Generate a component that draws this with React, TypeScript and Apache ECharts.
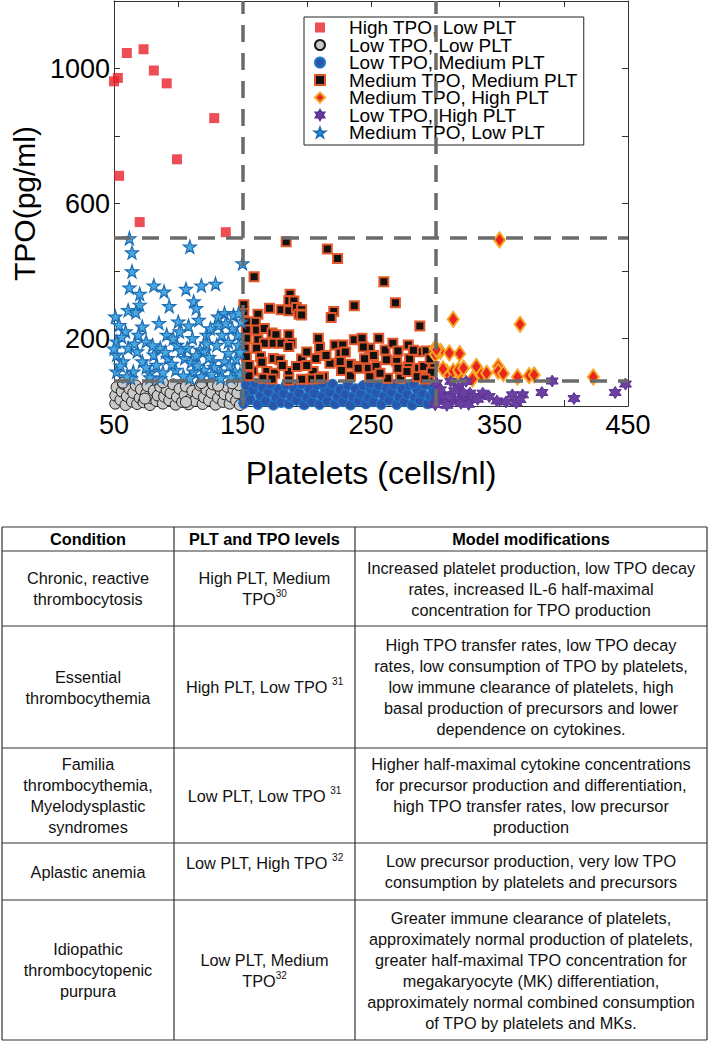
import React, { useEffect, useRef } from "react";
import * as echarts from "echarts";

// ---------- DATA ----------
const seriesNames = [
  "High TPO, Low PLT",
  "Low TPO, Low PLT",
  "Low TPO, Medium PLT",
  "Medium TPO, Medium PLT",
  "Medium TPO, High PLT",
  "Low TPO, High PLT",
  "Medium TPO, Low PLT",
];

const xTickLabels = [50, 150, 250, 350, 450];
const yTickLabels = [200, 600, 1000];
const pltThresholds = [150, 300];
const tpoThresholds = [75, 500];

const highTpoLowPlt = [
  [50, 962], [53, 972], [60, 1046], [73, 1057], [81, 994], [91, 956],
  [128, 853], [99, 731], [54, 682], [70, 545], [137, 515],
];

const lowTpoLowPlt = [
  [51, 7], [51, 31], [52, 56], [55, 18], [56, 43], [57, 66], [59, 3], [60, 29], [62, 51],
  [64, 13], [65, 39], [67, 61], [68, 6], [70, 24], [71, 49], [73, 11], [75, 36], [76, 59],
  [78, 3], [79, 23], [81, 46], [83, 15], [84, 31], [86, 57], [88, 7], [89, 28], [91, 47],
  [93, 17], [94, 38], [96, 64], [98, 4], [99, 27], [101, 51], [103, 12], [105, 32], [106, 58],
  [108, 5], [110, 23], [111, 45], [113, 15], [115, 37], [117, 61], [119, 6], [120, 26],
  [122, 48], [124, 16], [126, 39], [127, 64], [129, 4], [131, 24], [133, 46], [135, 12],
  [136, 35], [138, 57], [140, 7], [141, 28], [143, 49], [145, 16], [146, 38], [147, 62],
  [148, 3], [57, 69], [88, 70], [118, 68], [142, 67], [74, 22], [106, 12], [131, 60],
];

const lowTpoMediumPlt = [
  [151, 8], [152, 36], [153, 61], [156, 19], [158, 47], [160, 67], [162, 5], [164, 31],
  [166, 54], [168, 15], [170, 41], [172, 63], [174, 3], [176, 26], [178, 49], [180, 11],
  [182, 37], [184, 62], [186, 7], [188, 27], [190, 53], [192, 17], [194, 39], [196, 65],
  [198, 4], [200, 25], [202, 51], [204, 13], [206, 37], [208, 63], [210, 5], [212, 29],
  [214, 53], [216, 15], [218, 41], [220, 64], [222, 7], [224, 27], [226, 49], [228, 13],
  [230, 35], [232, 61], [234, 3], [236, 27], [238, 51], [240, 15], [242, 37], [244, 60],
  [246, 7], [248, 25], [250, 48], [252, 13], [254, 39], [256, 61], [258, 5], [260, 29],
  [262, 53], [264, 17], [266, 41], [268, 63], [270, 5], [272, 27], [274, 51], [276, 13],
  [278, 35], [280, 61], [282, 3], [284, 25], [286, 49], [288, 15], [290, 37], [292, 63],
  [294, 7], [296, 29], [298, 53], [299, 13], [299, 41], [283, 66], [249, 66], [212, 66],
];

const mediumTpoMediumPlt = [
  [184, 487], [216, 465], [224, 437], [159, 383], [187, 331], [186, 312], [190, 311],
  [171, 290], [180, 285], [186, 282], [192, 292], [196, 285], [194, 272], [237, 297],
  [221, 280], [219, 262], [162, 272], [153, 250], [160, 248], [153, 225], [161, 225],
  [167, 230], [173, 216], [176, 211], [186, 211], [153, 201], [162, 196], [167, 186],
  [174, 186], [180, 186], [188, 186], [152, 171], [161, 171], [186, 176], [209, 201],
  [210, 173], [222, 181], [228, 181], [237, 196], [226, 156], [153, 146], [164, 146],
  [174, 141], [179, 137], [196, 139], [207, 141], [218, 127], [226, 132], [158, 104],
  [169, 102], [175, 97], [186, 102], [192, 117], [205, 102], [213, 87], [227, 105],
  [234, 124], [240, 117], [234, 90], [166, 82], [173, 80], [186, 77], [196, 79],
  [204, 80], [210, 82], [260, 368], [269, 306], [288, 237], [243, 201], [249, 171],
  [256, 201], [261, 166], [267, 186], [271, 163], [279, 181], [287, 161], [293, 163],
  [299, 163], [240, 112], [248, 112], [254, 117], [262, 137], [270, 132], [271, 112],
  [279, 117], [287, 112], [291, 117], [299, 117], [263, 82], [273, 82], [286, 87],
  [295, 87], [278, 102], [257, 97], [249, 87], [200, 160], [215, 150], [245, 140],
  [252, 150], [280, 140], [296, 140], [155, 120], [165, 130], [200, 120], [230, 160],
  [244, 175], [283, 165], [297, 100], [292, 80], [155, 90], [181, 120], [151, 280],
  [151, 300], [196, 270],
];

const mediumTpoHighPlt = [
  [350, 492], [314, 257], [366, 242], [300, 172], [304, 162], [311, 157], [319, 155],
  [300, 152], [301, 167], [309, 100], [314, 103], [319, 97], [318, 107], [329, 80],
  [332, 117], [336, 93], [340, 97], [349, 117], [349, 103], [353, 96], [364, 86],
  [373, 90], [377, 92], [423, 86], [306, 110], [322, 112],
];

const lowTpoHighPlt = [
  [301, 68], [312, 73], [324, 73], [318, 53], [327, 38], [337, 38], [360, 33], [368, 33],
  [383, 40], [391, 74], [408, 22], [440, 40], [448, 65], [348, 15], [363, 9], [366, 19],
  [302, 19], [308, 14], [313, 14], [318, 19], [323, 24], [328, 19], [306, 33], [311, 28],
  [322, 38], [330, 28], [300, 4], [309, 2], [315, 45], [320, 8], [326, 5], [304, 48],
  [333, 20], [342, 28], [355, 12],
];

const mediumTpoLowPlt = [
  [62, 497], [64, 455], [64, 399], [109, 472], [150, 423], [62, 351], [70, 332], [81, 357],
  [89, 339], [106, 347], [118, 357], [129, 362], [70, 300], [61, 284], [67, 278], [93, 296],
  [112, 310], [114, 290], [51, 265], [54, 240], [59, 221], [72, 235], [85, 246], [100, 250],
  [116, 255], [136, 275], [143, 270], [131, 265], [69, 211], [75, 191], [91, 211], [101, 221],
  [111, 201], [122, 211], [134, 211], [146, 211], [52, 191], [61, 172], [52, 152], [68, 162],
  [81, 152], [86, 172], [99, 181], [107, 172], [117, 167], [130, 181], [139, 157], [147, 181],
  [57, 132], [72, 132], [83, 122], [92, 142], [105, 142], [120, 162], [127, 132], [136, 132],
  [52, 102], [65, 102], [78, 98], [98, 107], [112, 102], [120, 107], [133, 102], [144, 102],
  [63, 83], [86, 83], [109, 83], [133, 83], [55, 120], [60, 88], [75, 115], [88, 100],
  [95, 125], [102, 165], [110, 130], [114, 150], [124, 145], [128, 115], [140, 120],
  [145, 140], [148, 160], [139, 190], [142, 230], [149, 250], [131, 240], [125, 230],
  [108, 238], [96, 200], [80, 180], [66, 185], [56, 205], [50, 170], [78, 85], [104, 90],
  [118, 88], [126, 95], [141, 85], [148, 95], [90, 160], [115, 120], [122, 185], [137, 245],
  [147, 275],
];

const tableHeader = ["Condition", "PLT and TPO levels", "Model modifications"];
const tableRows = [
  [
    "Chronic, reactive\nthrombocytosis",
    "High PLT, Medium\nTPO{s|30}",
    "Increased platelet production, low TPO decay\nrates, increased IL-6 half-maximal\nconcentration for TPO production",
  ],
  [
    "Essential\nthrombocythemia",
    "High PLT, Low TPO {s|31}",
    "High TPO transfer rates, low TPO decay\nrates, low consumption of TPO by platelets,\nlow immune clearance of platelets, high\nbasal production of precursors and lower\ndependence on cytokines.",
  ],
  [
    "Familia\nthrombocythemia,\nMyelodysplastic\nsyndromes",
    "Low PLT, Low TPO {s|31}",
    "Higher half-maximal cytokine concentrations\nfor precursor production and differentiation,\nhigh TPO transfer rates, low precursor\nproduction",
  ],
  [
    "Aplastic anemia",
    "Low PLT, High TPO {s|32}",
    "Low precursor production, very low TPO\nconsumption by platelets and precursors",
  ],
  [
    "Idiopathic\nthrombocytopenic\npurpura",
    "Low PLT, Medium\nTPO{s|32}",
    "Greater immune clearance of platelets,\napproximately normal production of platelets,\ngreater half-maximal TPO concentration for\nmegakaryocyte (MK) differentiation,\napproximately normal combined consumption\nof TPO by platelets and MKs.",
  ],
];

// ---------- LAYOUT ----------
const FONT = "'Liberation Sans', Arial, Helvetica, sans-serif";
const TABLE_FONT = "'Liberation Sans', Arial, sans-serif";
const TABLE_SIZE = 16.3;
const rowLines = [527, 551, 626, 748, 843, 900, 1040];
const colLines = [2, 174, 355, 707];

const starPath =
  "path://M50,0 L61.8,35.1 L98.1,35.1 L68.7,56.8 L79.4,91.1 L50,70 L20.6,91.1 L31.3,56.8 L1.9,35.1 L38.2,35.1 Z";
const hexPath =
  "path://M50,0 L64.4,25 L93.3,25 L78.9,50 L93.3,75 L64.4,75 L50,100 L35.6,75 L6.7,75 L21.1,50 L6.7,25 L35.6,25 Z";

function buildTable() {
  const els: any[] = [];
  rowLines.forEach((y) => {
    els.push({
      type: "line",
      shape: { x1: colLines[0], y1: y, x2: colLines[colLines.length - 1], y2: y },
      style: { stroke: "#333", lineWidth: 1.2 },
    });
  });
  colLines.forEach((x) => {
    els.push({
      type: "line",
      shape: { x1: x, y1: rowLines[0], x2: x, y2: rowLines[rowLines.length - 1] },
      style: { stroke: "#333", lineWidth: 1.2 },
    });
  });
  const colCenter = (c: number) => (colLines[c] + colLines[c + 1]) / 2;
  tableHeader.forEach((t, c) => {
    els.push({
      type: "text",
      style: {
        text: t,
        x: colCenter(c),
        y: (rowLines[0] + rowLines[1]) / 2,
        align: "center",
        verticalAlign: "middle",
        fontFamily: TABLE_FONT,
        fontWeight: "bold",
        fontSize: TABLE_SIZE,
        fill: "#000",
      },
    });
  });
  tableRows.forEach((row, r) => {
    const yc = (rowLines[r + 1] + rowLines[r + 2]) / 2;
    row.forEach((t, c) => {
      const y = r === 3 && c === 1 ? yc - 9 : yc;
      els.push({
        type: "text",
        style: {
          text: t,
          x: colCenter(c),
          y,
          align: "center",
          verticalAlign: "middle",
          fontFamily: TABLE_FONT,
          fontSize: TABLE_SIZE,
          lineHeight: 21,
          fill: "#111",
          rich: {
            s: { fontSize: 10, fontFamily: TABLE_FONT, verticalAlign: "top", lineHeight: 21, fill: "#111" },
          },
        },
      });
    });
  });
  return els;
}

export default function App() {
  const ref = useRef<HTMLDivElement>(null);
  useEffect(() => {
    if (!ref.current) return;
    const chart = echarts.init(ref.current, undefined, { renderer: "svg" });
    const axisCommon = {
      type: "value",
      splitLine: { show: false },
      axisLine: { show: true, onZero: false, lineStyle: { color: "#333", width: 1 } },
      axisTick: { show: true, inside: true, length: 6, lineStyle: { color: "#333" } },
    };
    const dash = {
      color: "#6b6b6b",
      width: 3.5,
      type: [17, 11],
    };
    chart.setOption({
      animation: false,
      backgroundColor: "#fff",
      grid: { left: 114, top: 1, width: 514, height: 405, containLabel: false },
      xAxis: [
        {
          ...axisCommon,
          min: 50,
          max: 450,
          interval: 50,
          name: "Platelets (cells/nl)",
          nameLocation: "middle",
          nameGap: 51,
          nameTextStyle: { fontFamily: FONT, fontSize: 32, color: "#000" },
          axisLabel: {
            show: true,
            margin: 5,
            fontFamily: FONT,
            fontSize: 27,
            color: "#000",
            showMinLabel: true,
            showMaxLabel: true,
            formatter: (v: number) => (xTickLabels.includes(v) ? String(v) : ""),
          },
        },
        {
          ...axisCommon,
          position: "top",
          min: 50,
          max: 450,
          interval: 50,
          axisLabel: { show: false },
        },
      ],
      yAxis: [
        {
          ...axisCommon,
          min: 0,
          max: 1200,
          interval: 200,
          name: "TPO(pg/ml)",
          nameLocation: "middle",
          nameGap: 55,
          nameTextStyle: { fontFamily: FONT, fontSize: 30, color: "#000" },
          axisLabel: {
            show: true,
            margin: 4,
            fontFamily: FONT,
            fontSize: 27,
            color: "#000",
            formatter: (v: number) => (yTickLabels.includes(v) ? String(v) : ""),
          },
        },
        {
          ...axisCommon,
          position: "right",
          min: 0,
          max: 1200,
          interval: 200,
          axisLabel: { show: false },
        },
      ],
      legend: {
        orient: "vertical",
        left: 304,
        top: 17,
        padding: [1, 6, 3, 10],
        itemWidth: 10,
        itemHeight: 10,
        itemGap: -1.5,
        backgroundColor: "#fff",
        borderColor: "#222",
        borderWidth: 1,
        textStyle: {
          fontFamily: FONT,
          fontSize: 19,
          color: "#000",
          lineHeight: 17.6,
          padding: [0, 0, 0, 19],
        },
        data: seriesNames,
      },
      graphic: buildTable(),
      series: [
        {
          name: seriesNames[0],
          type: "scatter",
          data: highTpoLowPlt,
          symbol: "rect",
          symbolSize: 10,
          itemStyle: { color: "#e8212b", borderColor: "#e8212b", borderWidth: 0 },
        },
        {
          name: seriesNames[1],
          type: "scatter",
          data: lowTpoLowPlt,
          symbol: "circle",
          symbolSize: 11,
          itemStyle: { color: "#c9c9c9", borderColor: "#1a1a1a", borderWidth: 1, opacity: 1 },
        },
        {
          name: seriesNames[2],
          type: "scatter",
          data: lowTpoMediumPlt,
          symbol: "circle",
          symbolSize: 10,
          itemStyle: { color: "#2a55ab", borderColor: "#1f78c6", borderWidth: 1.2, opacity: 1 },
        },
        {
          name: seriesNames[3],
          type: "scatter",
          data: mediumTpoMediumPlt,
          symbol: "rect",
          symbolSize: 9,
          itemStyle: { color: "#111", borderColor: "#e2582b", borderWidth: 2, opacity: 1 },
        },
        {
          name: seriesNames[4],
          type: "scatter",
          data: mediumTpoHighPlt,
          symbol: "diamond",
          symbolSize: [11, 15],
          itemStyle: { color: "#e8261f", borderColor: "#f7a823", borderWidth: 2, opacity: 1 },
        },
        {
          name: seriesNames[5],
          type: "scatter",
          data: lowTpoHighPlt,
          symbol: hexPath,
          symbolSize: 12,
          itemStyle: { color: "#6b3fa0", borderColor: "#5a3595", borderWidth: 1, opacity: 1 },
        },
        {
          name: seriesNames[6],
          type: "scatter",
          data: mediumTpoLowPlt,
          symbol: starPath,
          symbolSize: 13,
          itemStyle: { color: "#4aa8e0", borderColor: "#1d6db4", borderWidth: 1.2, opacity: 1 },
        },
        {
          name: "thresholds",
          type: "scatter",
          data: [],
          z: 3,
          silent: true,
          markLine: {
            silent: true,
            symbol: "none",
            label: { show: false },
            lineStyle: dash,
            data: [
              ...pltThresholds.map((v) => ({ xAxis: v })),
              ...tpoThresholds.map((v) => ({ yAxis: v })),
            ],
          },
        },
      ],
    });
    return () => chart.dispose();
  }, []);
  return (
    <div
      ref={ref}
      style={{ position: "absolute", left: 0, top: 0, width: 709, height: 1042, background: "#fff" }}
    />
  );
}
